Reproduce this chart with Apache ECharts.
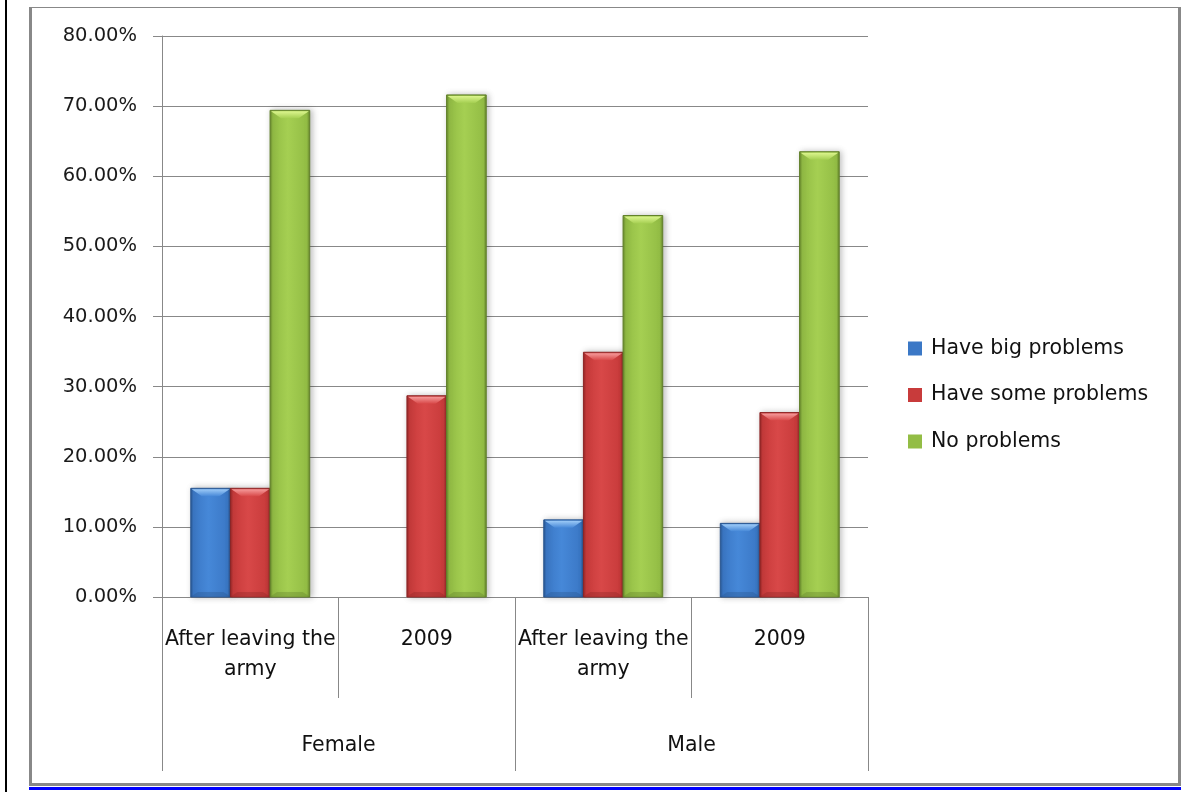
<!DOCTYPE html>
<html>
<head>
<meta charset="utf-8">
<title>Problems after leaving the army</title>
<script src="https://cdn.jsdelivr.net/npm/echarts@6/dist/echarts.min.js"></script>
<style>
  html, body { margin: 0; padding: 0; background: #ffffff; }
  #chart { width: 1181px; height: 792px; }
</style>
</head>
<body>
<div id="chart"></div>
<script>
// Leaf categories (period) and their parent groups (sex)
const periods = ['After leaving the\narmy', '2009', 'After leaving the\narmy', '2009'];
const groups = ['Female', 'Male'];
const seriesNames = ['Have big problems', 'Have some problems', 'No problems'];

// Shares of respondents, one value per leaf category
const bigProblems = [0.155, 0, 0.110, 0.105];
const someProblems = [0.155, 0.287, 0.349, 0.263];
const noProblems = [0.694, 0.716, 0.544, 0.635];

const yTicks = { min: 0, max: 0.8, interval: 0.1 };

// Bar palettes: base, light centre, dark edge, top highlight
const palettes = [
  { base: '#3b78c6', light: '#4688d8', dark: '#28558f', hi: '#9ccaf7' },
  { base: '#c83b3b', light: '#d84848', dark: '#8e2525', hi: '#f59a9a' },
  { base: '#93bd45', light: '#a5cf52', dark: '#62812a', hi: '#dcf58e' }
];

const CAT_GAP = 0.326;   // share of the band left empty around each bar cluster
const N = 3;

function makeRender(si) {
  const p = palettes[si];
  return function (params, api) {
    const cat = api.value(0);
    const v = api.value(1);
    if (!v) return null;
    const band = api.size([1, 0])[0];
    const barW = band * (1 - CAT_GAP) / N;
    const centre = api.coord([cat, 0]);
    const topPt = api.coord([cat, v]);
    const x0 = centre[0] - barW * N / 2 + si * barW;
    const y0 = topPt[1];
    const h = centre[1] - y0;
    const bev = Math.min(8, h / 2);
    const side = 3;
    const bodyFill = new echarts.graphic.LinearGradient(0, 0, 1, 0, [
      { offset: 0, color: p.dark },
      { offset: 0.08, color: p.base },
      { offset: 0.45, color: p.light },
      { offset: 0.92, color: p.base },
      { offset: 1, color: p.dark }
    ]);
    return {
      type: 'group',
      children: [
        {
          type: 'rect',
          shape: { x: x0, y: y0, width: barW, height: h },
          style: {
            fill: bodyFill,
            stroke: p.dark,
            lineWidth: 1,
            shadowBlur: 6,
            shadowOffsetX: 2,
            shadowColor: 'rgba(0,0,0,0.25)'
          }
        },
        {
          type: 'polygon',
          shape: {
            points: [
              [x0 + 1, y0 + 1], [x0 + barW - 1, y0 + 1],
              [x0 + barW - side - bev, y0 + bev], [x0 + side + bev, y0 + bev]
            ]
          },
          style: {
            fill: new echarts.graphic.LinearGradient(0, 0, 0, 1, [
              { offset: 0, color: p.hi },
              { offset: 1, color: p.light }
            ])
          }
        },
        {
          type: 'polygon',
          shape: {
            points: [
              [x0 + 1, centre[1] - 1], [x0 + barW - 1, centre[1] - 1],
              [x0 + barW - side - 4, centre[1] - 5], [x0 + side + 4, centre[1] - 5]
            ]
          },
          style: { fill: p.dark, opacity: 0.35 }
        }
      ]
    };
  };
}

const valueSets = [bigProblems, someProblems, noProblems];
const series = valueSets.map(function (vals, si) {
  return {
    name: seriesNames[si],
    type: 'custom',
    xAxisIndex: 0,
    yAxisIndex: 0,
    itemStyle: { color: palettes[si].base },
    encode: { x: 0, y: 1 },
    data: vals.map(function (v, i) { return [i, v]; }),
    renderItem: makeRender(si)
  };
});

const GRID_LINE = '#888888';
const FONT = '"DejaVu Sans", Verdana, sans-serif';

const chart = echarts.init(document.getElementById('chart'), null, { renderer: 'canvas' });
chart.setOption({
  backgroundColor: '#ffffff',
  animation: false,
  textStyle: { fontFamily: FONT },
  grid: { left: 162, right: 313, top: 36, bottom: 195, containLabel: false },
  legend: {
    orient: 'vertical',
    left: 908,
    top: 338,
    padding: 0,
    itemGap: 25.5,
    itemWidth: 14,
    itemHeight: 14,
    icon: 'rect',
    textStyle: { fontSize: 20.5, lineHeight: 20, color: '#111', fontFamily: FONT, padding: [0, 0, 0, 4] },
    data: seriesNames
  },
  xAxis: [
    {
      type: 'category',
      data: periods,
      position: 'bottom',
      boundaryGap: true,
      axisLine: { show: true, lineStyle: { color: GRID_LINE, width: 1 } },
      axisTick: { show: true, interval: 0, length: 101, lineStyle: { color: GRID_LINE, width: 1 } },
      axisLabel: {
        interval: 0,
        margin: 28,
        fontSize: 20.5,
        lineHeight: 30,
        color: '#111',
        fontFamily: FONT
      },
      splitLine: { show: false }
    },
    {
      type: 'category',
      data: groups,
      position: 'bottom',
      gridIndex: 0,
      boundaryGap: true,
      axisLine: { show: false },
      axisTick: { show: true, interval: 0, length: 174, lineStyle: { color: GRID_LINE, width: 1 } },
      axisLabel: {
        interval: 0,
        margin: 134,
        fontSize: 20.5,
        lineHeight: 30,
        color: '#111',
        fontFamily: FONT
      },
      splitLine: { show: false }
    }
  ],
  yAxis: {
    type: 'value',
    min: yTicks.min,
    max: yTicks.max,
    interval: yTicks.interval,
    axisLine: { show: true, lineStyle: { color: GRID_LINE, width: 1 } },
    axisTick: { show: true, length: 9, lineStyle: { color: GRID_LINE } },
    axisLabel: {
      margin: 25,
      fontSize: 19.5,
      color: '#1a1a1a',
      fontFamily: FONT,
      formatter: function (v) { return (v * 100).toFixed(2) + '%'; }
    },
    splitLine: { show: true, lineStyle: { color: GRID_LINE, width: 1 } }
  },
  series: series,
  graphic: [
    // page margin rule on the far left
    { type: 'rect', silent: true, shape: { x: 5, y: 0, width: 2, height: 792 }, style: { fill: '#000000' } },
    // chart frame
    { type: 'rect', silent: true, shape: { x: 29, y: 7, width: 3, height: 779 }, style: { fill: '#888888' } },
    { type: 'rect', silent: true, shape: { x: 29, y: 7, width: 1152, height: 1 }, style: { fill: '#888888' } },
    { type: 'rect', silent: true, shape: { x: 1178, y: 7, width: 3, height: 779 }, style: { fill: '#888888' } },
    { type: 'rect', silent: true, shape: { x: 29, y: 783, width: 1152, height: 3 }, style: { fill: '#888888' } },
    // blue underline below the frame
    { type: 'rect', silent: true, shape: { x: 29, y: 787, width: 1152, height: 3 }, style: { fill: '#0000ff' } }
  ]
});
</script>
</body>
</html>
